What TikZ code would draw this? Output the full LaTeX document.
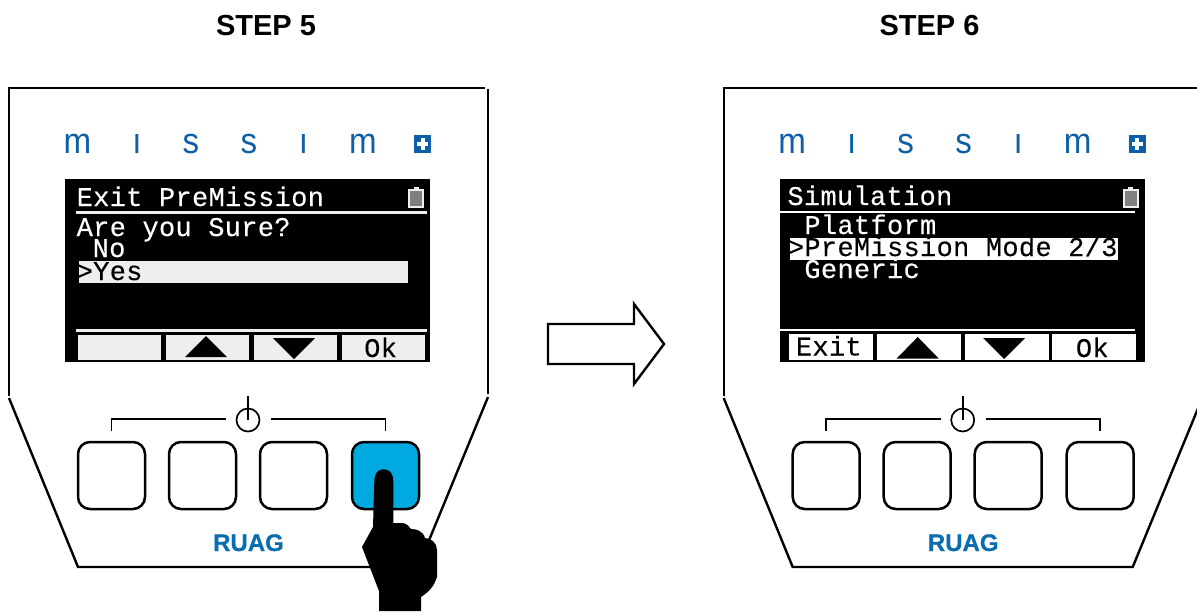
\documentclass[tikz,border=0pt]{standalone}
\usepackage{fontspec}
\setmainfont{Liberation Sans}
\newfontfamily\lcdfont[LetterSpace=1.2,FakeBold=0.25]{Liberation Mono}
\newfontfamily\ruagfont[FakeBold=0.6]{Liberation Sans Bold}
\definecolor{mblue}{HTML}{0F5FA8}
\definecolor{rblue}{HTML}{0A6DB0}
\definecolor{press}{HTML}{00A9E0}
\definecolor{stripe}{HTML}{EEEEEE}
\tikzset{
  title/.style={font=\fontsize{29}{29}\selectfont\bfseries,inner sep=0pt},
  outline/.style={line width=2.4pt,black},
  thin line/.style={line width=1.7pt,black},
  btn/.style={draw=black,line width=2.5pt,rounded corners=12pt,minimum width=67pt,minimum height=67pt,inner sep=0pt,fill=white},
  logo/.style={font=\fontsize{36}{36}\selectfont,text=mblue,inner sep=0pt,anchor=base,xscale=.92},
  lcd/.style={font=\fontsize{27}{27}\lcdfont,inner sep=0pt,anchor=base west,text height=14pt,text depth=0pt},
  lcdw/.style={lcd,text=white},
  lcdb/.style={lcd,text=black},
  rule/.style={line width=2.6pt,color=stripe},
  tri/.style={fill=black},
  ruag/.style={font=\fontsize{24}{24}\ruagfont,text=rblue,inner sep=0pt,anchor=base},
}
\newcommand{\devicebody}{%
  % housing
  \coordinate (a) at (9,396); \coordinate (b) at (9,88); \coordinate (c) at (485,88);
  \coordinate (d) at (488,89); \coordinate (e) at (488,394);
  \coordinate (f) at (9,398); \coordinate (g) at (78,567); \coordinate (h) at (418,567);
  \coordinate (i) at (488,397);
  \draw[outline] (a) -- (b) -- (c);
  \draw[outline] (d) -- (e);
  \draw[outline] (f) -- (g) -- (h) -- (i);
  % logo
  \node[logo] (l1) at (77.5,153) {m};
  \node[logo] (l2) at (137,153) {ı};
  \node[logo] (l3) at (191,153) {s};
  \node[logo] (l4) at (249,153) {s};
  \node[logo] (l5) at (303.5,153) {ı};
  \node[logo] (l6) at (363,153) {m};
  \fill[mblue] (414,135) rectangle (431,153);
  \fill[white] (420.5,138) rectangle (424.5,150);
  \fill[white] (417,142) rectangle (428,146);
  % screen
  \fill[black] (65,179) rectangle (430,362);
  \fill[black!50] (409,191) rectangle (423,207);
  \draw[stripe,line width=1.6pt] (409,190) rectangle (423,207);
  \fill[stripe] (413.5,186.5) rectangle (418.5,190);
  % power symbol and bracket
  \node[draw=black,line width=1.7pt,circle,minimum size=23pt,inner sep=0pt] (pw) at (248,420) {};
  \coordinate (pt) at (248,396);
  \draw[thin line] (pt) -- (pw.center);
  \coordinate (b1) at (111.5,431); \coordinate (b2) at (111.5,419); \coordinate (b3) at (226,419);
  \coordinate (b4) at (271,419); \coordinate (b5) at (385.5,419); \coordinate (b6) at (385.5,431);
  \draw[thin line] (b1) -- (b2) -- (b3);
  \draw[thin line] (b4) -- (b5) -- (b6);
  % brand
  \node[ruag] (ruag) at (248.5,551) {RUAG};
}
\begin{document}
\begin{tikzpicture}[x=1pt,y=-1pt]
\useasboundingbox (0,0) rectangle (1197,611);
\clip (0,0) rectangle (1197,611);

\node[title] (t5) at (266,26) {STEP 5};
\node[title] (t6) at (929.5,26) {STEP 6};

% ---------- STEP 5 ----------
\begin{scope}
  \devicebody
  \draw[rule] (76,212.7) -- (427,212.7);
  \draw[rule] (76,330.7) -- (427,330.7);
  \node[lcdw] (s5a) at (76.5,206) {Exit PreMission};
  \node[lcdw] (s5b) at (76.5,236) {Are you Sure?};
  \node[lcdw] (s5c) at (92.5,257) {No};
  \fill[stripe] (79,261) rectangle (408,283);
  \node[lcdb] (s5d) at (76.5,280) {>Yes};
  \fill[stripe] (78,335) rectangle (161,360);
  \fill[stripe] (166,335) rectangle (249,360);
  \fill[stripe] (254,335) rectangle (337,360);
  \fill[stripe] (342,335) rectangle (425,360);
  \fill[tri] (185,357) -- (227,357) -- (206,336) -- cycle;
  \fill[tri] (273,338) -- (315,338) -- (294,359) -- cycle;
  \node[lcdb] (s5e) at (364,357) {Ok};
  \node[btn] (b5a) at (111.5,475.5) {};
  \node[btn] (b5b) at (202.5,475.5) {};
  \node[btn] (b5c) at (293.5,475.5) {};
  \node[btn,fill=press] (b5d) at (385.5,475.5) {};
  % hand
  \fill[black] (373,527)
    -- (374.3,482)
    .. controls (374.3,473) and (378,469.3) .. (383.5,469.3)
    .. controls (389.5,469.3) and (393.3,473) .. (393.3,482)
    -- (393.3,523) -- (403,523)
    .. controls (407,524) and (409,526) .. (411,529)
    .. controls (417,529) and (423,531) .. (425,538)
    .. controls (431,538) and (437,543) .. (437,550)
    -- (437,577)
    .. controls (434,586) and (430,591) .. (421,597)
    -- (421,611) -- (379,611) -- (379,591) -- (362,547) -- cycle;
\end{scope}

% ---------- block arrow ----------
\draw[outline,fill=white,miter limit=10] (548,324) -- (634,324) -- (634,304) -- (664,344) -- (634,384) -- (634,364) -- (548,364) -- cycle;

% ---------- STEP 6 ----------
\begin{scope}[xshift=714.7pt]
  \devicebody
  \draw[rule,color=white] (62,212) -- (420,212);
  \draw[rule,color=white] (62,330) -- (420,330);
  \node[lcdw] (s6a) at (72.5,205) {Simulation};
  \node[lcdw] (s6b) at (89.5,234) {Platform};
  \fill[white] (75.5,238) rectangle (403.5,260);
  \node[lcdb] (s6c) at (73,256) {>PreMission Mode 2/3};
  \node[lcdw] (s6d) at (89.5,278) {Generic};
  \fill[white] (74.5,334) rectangle (158,360);
  \fill[white] (162.5,334) rectangle (246,360);
  \fill[white] (250.5,334) rectangle (334,360);
  \fill[white] (337.5,334) rectangle (421,360);
  \fill[tri] (182,358.5) -- (224,358.5) -- (203,337) -- cycle;
  \fill[tri] (268.5,338) -- (310.5,338) -- (289.5,359) -- cycle;
  \node[lcdb] (s6e) at (81,355.5) {Exit};
  \node[lcdb] (s6f) at (361,357) {Ok};
  \node[btn] (b6a) at (111.5,475.5) {};
  \node[btn] (b6b) at (202.5,475.5) {};
  \node[btn] (b6c) at (293.5,475.5) {};
  \node[btn] (b6d) at (385.5,475.5) {};
\end{scope}
\end{tikzpicture}
\end{document}
